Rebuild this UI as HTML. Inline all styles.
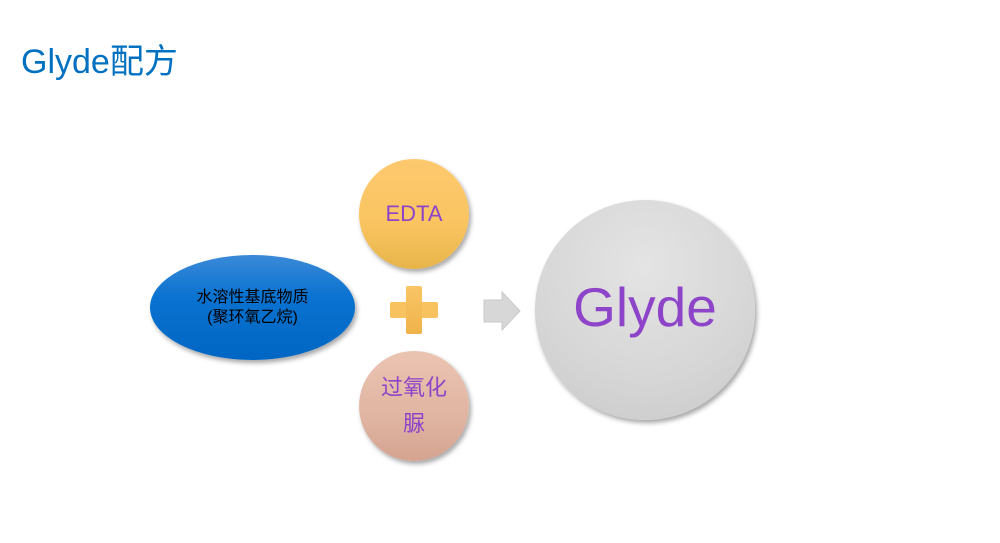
<!DOCTYPE html>
<html><head><meta charset="utf-8"><style>
body{margin:0;width:1000px;height:543px;background:#fff;position:relative;overflow:hidden;font-family:"Liberation Sans","Noto Sans CJK SC",sans-serif}
.a{position:absolute}
.c{border-radius:50%;display:flex;align-items:center;justify-content:center;text-align:center;box-shadow:2px 3px 5px rgba(0,0,0,.35)}
</style></head><body>
<div class="a" style="left:21px;top:34px;font-size:34px;color:#0070c0">Glyde配方</div>
<div class="a c" style="left:150px;top:255px;width:205px;height:105px;background:linear-gradient(#3a8ad8,#0a72d0 40%,#0066c4);font-size:16px;line-height:20px;color:#000">水溶性基底物质<br>(聚环氧乙烷)</div>
<div class="a c" style="left:359px;top:159px;width:110px;height:110px;background:linear-gradient(#fdc96e,#f9c460 60%,#e7b44a);font-size:22px;color:#8e44c8">EDTA</div>
<div class="a c" style="left:359px;top:351px;width:110px;height:110px;background:linear-gradient(#ebc4b1,#e0b5a2 60%,#d4a390);font-size:22px;line-height:36px;color:#8e44c8">过氧化<br>脲</div>
<div class="a" style="left:390px;top:302px;width:48px;height:16px;background:#f8c260;border-radius:2px"></div>
<div class="a" style="left:406px;top:286px;width:16px;height:48px;background:linear-gradient(#f9c565,#efb24a);border-radius:2px"></div>
<svg class="a" style="left:482px;top:290px" width="42" height="44"><polygon points="2,10 20,10 20,2 38,21 20,40 20,32 2,32" fill="#d7d7d7" stroke="#c8c8c8"/></svg>
<div class="a c" style="left:535px;top:200px;width:220px;height:220px;background:radial-gradient(circle at 50% 30%,#e4e4e4,#d6d6d6 60%,#c8c8c8);font-size:55px;color:#8e44c8"><span style="margin-top:-6px">Glyde</span></div>
</body></html>
